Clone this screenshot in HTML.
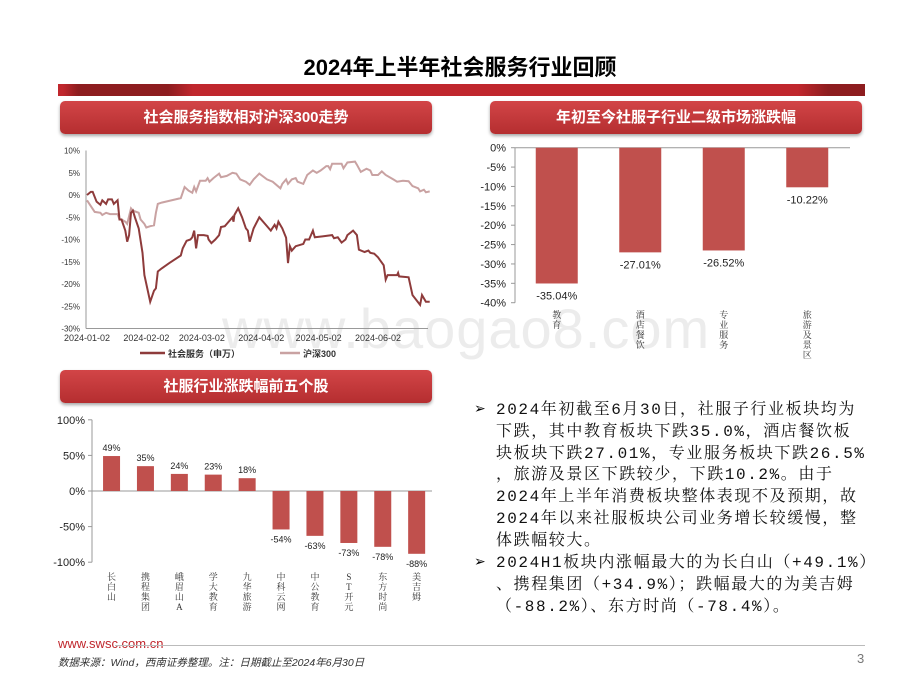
<!DOCTYPE html>
<html><head><meta charset="utf-8">
<style>
body{margin:0;width:920px;height:690px;background:#fff;position:relative;overflow:hidden;font-family:"Liberation Sans","Noto Sans CJK SC",sans-serif;}
.abs{position:absolute;}
.banner{position:absolute;height:33px;border-radius:5px;background:linear-gradient(#d24547,#b52e30);box-shadow:0 2px 3px rgba(0,0,0,0.35);color:#fff;font-weight:bold;font-size:15px;text-align:center;line-height:33px;}
.txt{position:absolute;left:496px;font-family:"Liberation Mono","Noto Serif CJK SC",serif;font-size:16px;letter-spacing:1.6px;line-height:21.8px;white-space:nowrap;color:#111;}
</style></head><body>
<div class="abs" style="left:222px;top:296px;font-size:56px;color:rgba(200,200,200,0.35);letter-spacing:1px;">www.baogao8.com</div>
<div class="abs" style="left:0;width:920px;top:50px;text-align:center;font-size:22px;font-weight:bold;">2024年上半年社会服务行业回顾</div>
<div class="abs" style="left:58px;top:84px;width:807px;height:12px;background:linear-gradient(90deg,#c0272d 0,#c0272d 5px,#8d1d1f 20px,#8d1d1f 110px,#c0272d 135px,#c0272d 740px,#8d1d1f 770px,#8d1d1f 807px);"></div>
<div class="banner" style="left:60px;top:101px;width:372px;">社会服务指数相对沪深300走势</div>
<div class="banner" style="left:490px;top:101px;width:372px;">年初至今社服子行业二级市场涨跌幅</div>
<div class="banner" style="left:60px;top:370px;width:372px;">社服行业涨跌幅前五个股</div>

<svg class="abs" style="left:0;top:0" width="920" height="690">
<g id="lineChart"></g>
<g id="sectorChart"></g>
<g id="stockChart"></g>
</svg>

<div>
<div class="abs" style="left:474px;top:400px;font-size:14px;">➢</div>
<div class="txt" style="top:400px;">2024年初截至6月30日，社服子行业板块均为<br>下跌，其中教育板块下跌35.0%，酒店餐饮板<br>块板块下跌27.01%，专业服务板块下跌26.5%<br>，旅游及景区下跌较少，下跌10.2%。由于<br>2024年上半年消费板块整体表现不及预期，故<br>2024年以来社服板块公司业务增长较缓慢，整<br>体跌幅较大。</div>
<div class="abs" style="left:474px;top:553px;font-size:14px;">➢</div>
<div class="txt" style="top:553px;">2024H1板块内涨幅最大的为长白山（+49.1%）<br>、携程集团（+34.9%）；跌幅最大的为美吉姆<br>（-88.2%）、东方时尚（-78.4%）。</div>
</div>

<div class="abs" style="left:58px;top:636px;font-size:13px;color:#c0272d;">www.swsc.com.cn</div>
<div class="abs" style="left:115px;top:645px;width:750px;height:1px;background:#bbb;"></div>
<div class="abs" style="left:58px;top:655px;font-size:10.5px;font-style:italic;color:#333;">数据来源：Wind，西南证券整理。注：日期截止至2024年6月30日</div>
<div class="abs" style="left:857px;top:651px;font-size:13px;color:#777;">3</div>

<script>
// ---- line chart data ----
const dateTicks=['2024-01-02','2024-02-02','2024-03-02','2024-04-02','2024-05-02','2024-06-02'];
const dateTickDays=[0,31,60,91,121,152];
const lineYTicks=[10,5,0,-5,-10,-15,-20,-25,-30];
const socDays=[0,2,3,5,7,8,10,11,13,14,16,17,18,20,21,22,23,24,25,27,29,30,33,35,36,37,39,43,49,50,52,54,55,56,57,58,61,63,63.5,65,67,69,70,72,73,76,76.5,77,79,81,83,84,85,87,90,93,96,98,99,100,102,104,105,106,107,109,113,114,116,118,119,123,128,129,131,133,135,136,139,141,142,145,147,148,150,152,155,156,157,162,162.5,163,168,170,174,175,177,179];
const socVals=[0,0.7,0.7,-1.5,-2.2,-1.2,-2,-1,-1,-2,-1.2,-5.5,-5.5,-8,-10.5,-9,-4,-3.5,-5,-7.5,-13,-18,-24,-21.5,-21,-17.2,-16.5,-15.3,-13.6,-12,-10.3,-10,-9.5,-8,-12,-9,-9,-9.2,-10,-10.8,-10,-9,-7.2,-7,-6.5,-5,-6,-4.5,-3,-5,-7.5,-8,-10.5,-7.5,-5,-6.5,-8,-6.7,-7.5,-6,-7.5,-9.6,-15.3,-11.5,-12.5,-11.5,-11,-10,-10,-8,-9.5,-9.3,-9,-9.7,-9.5,-10.7,-10,-9,-8,-9,-12.3,-12.8,-12.5,-13,-13.2,-14,-15.8,-19,-18,-18,-17.5,-18.3,-18.5,-22.5,-24.7,-22.5,-24,-24];
const hsDays=[0,2,4,7,8,10,12,16,17,18,20,21,23,24,27,28,30,31,33,35,36,37,39,49,51,53,55,56,57,59,62,63,64,66,69,70,73,76,78,80,83,85,87,90,94,97,101,102,104,105,107,109,110,113,115,118,120,122,125,126,127,128,133,134,136,140,141,143,146,148,149,152,154,156,160,162,165,168,170,173,174,176,177,179];
const hsVals=[-1.2,-2.5,-3.8,-4,-4.5,-4,-4.3,-4.3,-5.5,-5.5,-6,-6.5,-3,-3.5,-4,-5.5,-6.5,-7.3,-7,-6.8,-4,-2,-1.7,-0.7,1.8,1,0.5,1.8,0.8,3.2,3.2,3.8,3,3.8,4.8,4,4.3,5,4.8,3.5,3,2.3,3.5,4.8,3.5,3,1.5,2.5,3.5,2.5,3.5,3.8,3,2.5,4.5,5.5,5,5.5,6.5,6.5,5.8,7,7,6,7.3,7.5,6.8,5.2,5.9,5.5,4.5,4.5,5.3,4.5,3.5,3,3.2,3.1,2,1.5,0.8,1.2,0.6,0.8];
// ---- sector chart data ----
const sectorCats=['教育','酒店餐饮','专业服务','旅游及景区'];
const sectorVals=[-35.04,-27.01,-26.52,-10.22];
const sectorLabels=['-35.04%','-27.01%','-26.52%','-10.22%'];
const sectorYTicks=[0,-5,-10,-15,-20,-25,-30,-35,-40];
// ---- stock chart data ----
const stockCats=['长白山','携程集团','峨眉山A','学大教育','九华旅游','中科云网','中公教育','ST开元','东方时尚','美吉姆'];
const stockVals=[49.1,34.9,24,23,18,-54,-63,-73,-78.4,-88.2];
const stockLabels=['49%','35%','24%','23%','18%','-54%','-63%','-73%','-78%','-88%'];
const stockYTicks=[100,50,0,-50,-100];

const NS='http://www.w3.org/2000/svg';
function mk(parent,tag,attrs,text){const e=document.createElementNS(NS,tag);for(const k in attrs)e.setAttribute(k,attrs[k]);if(text!==undefined)e.textContent=text;parent.appendChild(e);return e;}
function vtext(parent,x,y,str,size,name){
  const t=mk(parent,'text',{x:x,y:y,'font-size':size,fill:'#333','text-anchor':'middle','font-family':'"Liberation Serif","Noto Serif CJK SC",serif'});
  
  
  [...str].forEach((c,i)=>{mk(t,'tspan',{x:x,dy:i===0?0:size+1},c);});
}

// line chart
(function(){
  const g=document.getElementById('lineChart');
  const x=d=>87+d*(378-87)/152;
  const y=v=>195-v*4.45;
  mk(g,'line',{x1:86,y1:y(10),x2:86,y2:y(-30),stroke:'#999','stroke-width':1});
  mk(g,'line',{x1:86,y1:y(-30),x2:428,y2:y(-30),stroke:'#999','stroke-width':1});
  lineYTicks.forEach(v=>{
    const t=mk(g,'text',{x:80,y:y(v)+3,'font-size':8,'text-anchor':'end',fill:'#333'},v+'%');
    
    
  });
  dateTicks.forEach((s,i)=>{
    const t=mk(g,'text',{x:x(dateTickDays[i]),y:341,'font-size':9,'text-anchor':'middle',fill:'#333'},s);
    
    
  });
  const path=(days,vals)=>days.map((d,i)=>(i?'L':'M')+x(d).toFixed(1)+','+y(vals[i]).toFixed(1)).join('');
  const p2=mk(g,'path',{d:path(hsDays,hsVals),fill:'none',stroke:'#c9a2a2','stroke-width':2});
  
  
  const p1=mk(g,'path',{d:path(socDays,socVals),fill:'none',stroke:'#8e3b3b','stroke-width':2});
  
  
  mk(g,'line',{x1:140,y1:353,x2:165,y2:353,stroke:'#8e3b3b','stroke-width':2.5});
  const l1=mk(g,'text',{x:168,y:357,'font-size':9,'font-weight':'bold',fill:'#333'},'社会服务（申万）');
  
  
  mk(g,'line',{x1:280,y1:353,x2:300,y2:353,stroke:'#c9a2a2','stroke-width':2.5});
  const l2=mk(g,'text',{x:303,y:357,'font-size':9,'font-weight':'bold',fill:'#333'},'沪深300');
  
  
})();

// sector chart
(function(){
  const g=document.getElementById('sectorChart');
  const y=v=>147.7-v*3.875;
  const band=83.5, x0=515, bw=42;
  mk(g,'line',{x1:515,y1:y(0),x2:515,y2:y(-40),stroke:'#999'});
  mk(g,'line',{x1:515,y1:y(0),x2:850,y2:y(0),stroke:'#999'});
  sectorYTicks.forEach(v=>{
    mk(g,'line',{x1:511,y1:y(v),x2:515,y2:y(v),stroke:'#999'});
    const t=mk(g,'text',{x:506,y:y(v)+4,'font-size':11,'text-anchor':'end',fill:'#222'},v+'%');
    
    
  });
  sectorCats.forEach((c,i)=>{
    const cx=x0+band*(i+0.5);
    const r=mk(g,'rect',{x:cx-bw/2,y:y(0),width:bw,height:y(sectorVals[i])-y(0),fill:'#c0504d'});
    
    
    const t=mk(g,'text',{x:cx,y:y(sectorVals[i])+16,'font-size':11,'text-anchor':'middle',fill:'#222'},sectorLabels[i]);
    
    
    vtext(g,cx,318,c,9,'category-label');
  });
})();

// stock chart
(function(){
  const g=document.getElementById('stockChart');
  const y=v=>491-v*0.712;
  const band=33.9, x0=94.6, bw=17;
  mk(g,'line',{x1:92,y1:y(100),x2:92,y2:y(-100),stroke:'#999'});
  mk(g,'line',{x1:92,y1:y(0),x2:432,y2:y(0),stroke:'#999'});
  stockYTicks.forEach(v=>{
    mk(g,'line',{x1:88,y1:y(v),x2:92,y2:y(v),stroke:'#999'});
    const t=mk(g,'text',{x:85,y:y(v)+4,'font-size':11,'text-anchor':'end',fill:'#222'},v+'%');
    
    
  });
  stockCats.forEach((c,i)=>{
    const cx=x0+band*(i+0.5);
    const v=stockVals[i];
    const r=mk(g,'rect',{x:cx-bw/2,y:Math.min(y(0),y(v)),width:bw,height:Math.abs(y(v)-y(0)),fill:'#c0504d'});
    
    
    const ly=v>=0?y(v)-5:y(v)+13;
    const t=mk(g,'text',{x:cx,y:ly,'font-size':9,'text-anchor':'middle',fill:'#222'},stockLabels[i]);
    
    
    vtext(g,cx,580,c,9,'category-label');
  });
})();
</script>
</body></html>
